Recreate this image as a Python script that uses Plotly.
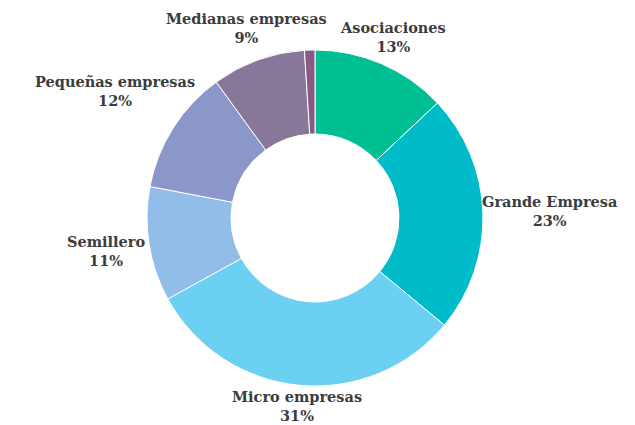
import math
import plotly.graph_objects as go

labels = ["Asociaciones", "Grande Empresa", "Micro empresas", "Semillero",
          "Pequeñas empresas", "Medianas empresas", "Otros"]
values = [13, 23, 31, 11, 12, 9, 1]
shown = ["13%", "23%", "31%", "11%", "12%", "9%", ""]
colors = ["#00BF93", "#00BBC9", "#6CD0F2", "#92BDE9", "#8C97C9", "#877899", "#8A5A86"]

# The page body keeps its default 8px margin, so the figure is sized to fit the window.
W, H = 627, 417
ML, MR, MT, MB = 139, 152, 42, 39
FONT = dict(family="DejaVu Serif", size=14.5, color="#3C3C3C")

fig = go.Figure(go.Pie(
    labels=labels,
    values=values,
    textinfo="none",
    sort=False,
    direction="clockwise",
    rotation=0,
    hole=0.5,
    marker=dict(colors=colors, line=dict(color="white", width=1)),
    showlegend=False,
    hoverinfo="label+percent",
))

# Label placement derived from the slice mid-angles (outside end, like the original)
pw, ph = W - ML - MR, H - MT - MB
cx, cy = ML + pw / 2, MT + ph / 2
R = min(pw, ph) / 2
total = sum(values)
cum = 0
annotations = []
for lab, v, s in zip(labels, values, shown):
    mid = (cum + v / 2) / total * 2 * math.pi
    cum += v
    if not s:
        continue
    hw = len(lab) * 9.3 / 2
    hh = 18
    sx, sy = math.sin(mid), -math.cos(mid)
    ext = math.hypot(hw * sx, hh * sy)
    d = R + 2 + ext
    px, py = cx + d * sx, cy + d * sy
    annotations.append(dict(
        x=(px - ML) / pw, y=1 - (py - MT) / ph, xref="paper", yref="paper",
        text=f"<b>{lab}<br>{s}</b>", showarrow=False,
        xanchor="center", yanchor="middle", align="center", font=FONT,
    ))

fig.update_layout(
    width=W, height=H,
    margin=dict(l=ML, r=MR, t=MT, b=MB),
    paper_bgcolor="white",
    plot_bgcolor="white",
    annotations=annotations,
)

fig.write_html("out.html")
